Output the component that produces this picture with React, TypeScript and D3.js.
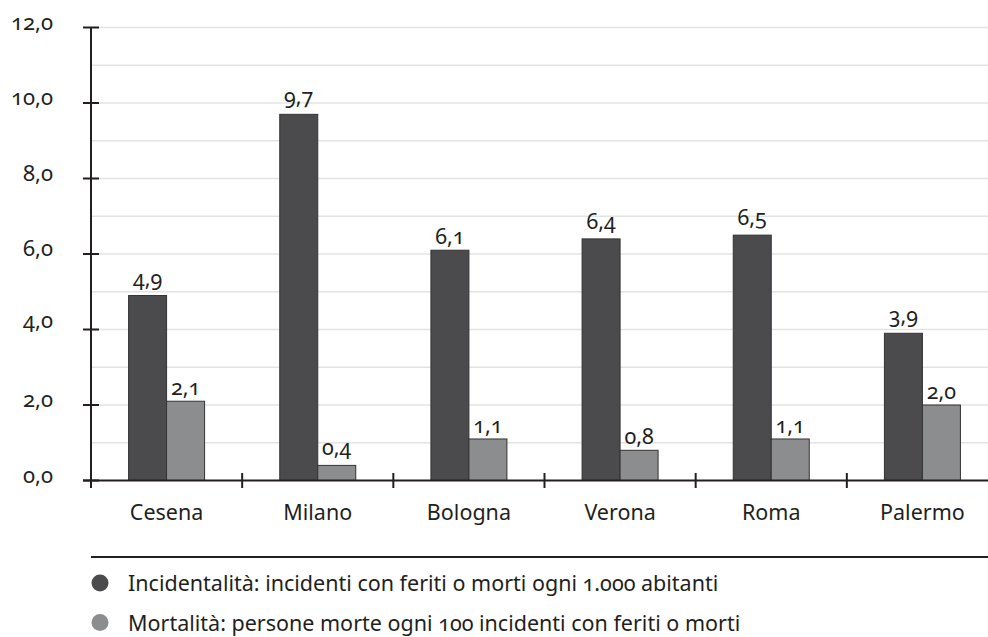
import React from "react";
import * as d3 from "d3";

const categories = ["Cesena", "Milano", "Bologna", "Verona", "Roma", "Palermo"];
const incidentalita = [4.9, 9.7, 6.1, 6.4, 6.5, 3.9];
const mortalita = [2.1, 0.4, 1.1, 0.8, 1.1, 2.0];
const seriesNames = [
  "Incidentalità: incidenti con feriti o morti ogni 1.000 abitanti",
  "Mortalità: persone morte ogni 100 incidenti con feriti o morti",
];
const yTicks = [0, 2, 4, 6, 8, 10, 12];
const gridValues = [1, 2, 3, 4, 5, 6, 7, 8, 9, 10, 11, 12];

const colors = ["#4b4b4d", "#8c8d8f"];
const FONT = "'Noto Sans', 'Open Sans', sans-serif";
const fmt = (v: number) => v.toFixed(1).replace(".", ",");
const desc = (s: string) => /[34579]/.test(s);

export default function App() {
  const W = 988, H = 637;
  const x0 = 91, x1 = 998;
  const y = d3.scaleLinear().domain([0, 12]).range([480.5, 27.5]);
  const xb = d3.scaleBand<string>().domain(categories).range([x0, x1]).padding(0);
  const barW = 38;
  const inner = d3.scaleBand<number>().domain([0, 1]).range([-barW, barW]).padding(0);
  const series = [incidentalita, mortalita];
  const axisColor = "#231f20";

  return (
    <svg width={W} height={H} style={{ position: "absolute", left: 0, top: 0, fontFamily: FONT, fontVariantNumeric: "oldstyle-nums" }}>
      <rect x={0} y={0} width={W} height={H} fill="#fff" />
      {gridValues.map((g) => (
        <line key={g} x1={x0} x2={x1} y1={y(g)} y2={y(g)} stroke="#e3e3e3" strokeWidth={1.5} />
      ))}
      {series.map((s, si) =>
        categories.map((c, i) => {
          const cx = (xb(c) as number) + xb.bandwidth() / 2;
          const bx = cx + (inner(si) as number);
          const lab = fmt(s[i]);
          return (
            <g key={c + si}>
              <rect x={bx} y={y(s[i])} width={inner.bandwidth()} height={y(0) - y(s[i])} fill={colors[si]} stroke="#333" strokeWidth={1} />
              <text x={bx + inner.bandwidth() / 2} y={y(s[i]) - (desc(lab) ? 10 : 6)} textAnchor="middle" fontSize={21.5} fill="#231f20">{lab}</text>
            </g>
          );
        })
      )}
      {/* y axis */}
      <line x1={x0} x2={x0} y1={y(12)} y2={488} stroke={axisColor} strokeWidth={2} />
      {yTicks.map((t) => {
        const lab = fmt(t);
        return (
          <g key={t}>
            <line x1={83} x2={99} y1={y(t)} y2={y(t)} stroke={axisColor} strokeWidth={2} />
            <text x={53} y={y(t) + (desc(lab) ? -2 : 2)} textAnchor="end" fontSize={22} fill="#231f20">{lab}</text>
          </g>
        );
      })}
      {/* x axis */}
      <line x1={x0 - 8} x2={W} y1={y(0)} y2={y(0)} stroke={axisColor} strokeWidth={2} />
      {categories.map((c, i) => (
        <g key={c}>
          {i > 0 && <line x1={xb(c)} x2={xb(c)} y1={473} y2={488} stroke={axisColor} strokeWidth={2} />}
          <text x={(xb(c) as number) + xb.bandwidth() / 2} y={520} textAnchor="middle" fontSize={21.5} fill="#231f20">{c}</text>
        </g>
      ))}
      {/* legend */}
      <line x1={x0} x2={W} y1={557} y2={557} stroke={axisColor} strokeWidth={2} />
      {seriesNames.map((n, i) => (
        <g key={n}>
          <circle cx={100} cy={583 + i * 39.5} r={8.5} fill={colors[i]} />
          <text x={128} y={591 + i * 39.5} fontSize={21.5} fill="#231f20">{n}</text>
        </g>
      ))}
    </svg>
  );
}
